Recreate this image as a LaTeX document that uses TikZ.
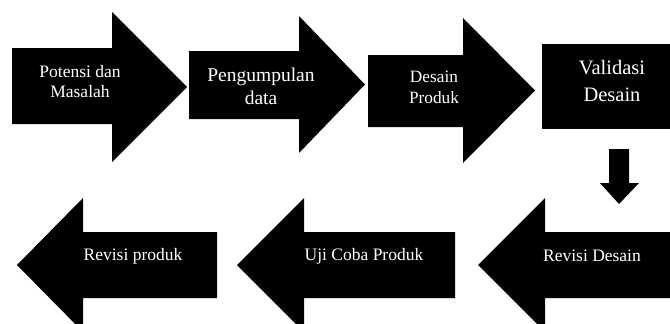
\documentclass[tikz,border=0pt]{standalone}
\usepackage{fontspec}
\setmainfont{Liberation Serif}
\usetikzlibrary{positioning}

\begin{document}
\begin{tikzpicture}[
  x=1pt, y=-1pt,
  blk/.style={fill=black},
  lbl/.style={text=white, align=center, inner sep=0pt, font=\fontsize{17.5}{20}\selectfont}
]
\useasboundingbox (0,0) rectangle (670,324);
\clip (0,0) rectangle (670,324);
% top row, arrows to the right
\foreach \xa/\yt/\yb/\xb/\ht/\hb/\xt in {12/48/124/112/12/162/187, 189/51/119/299/16/153/365, 368/55/127/463/18/163/535} {
  \fill[blk] (\xa,\yt) -- (\xb,\yt) -- (\xb,\ht) -- (\xt,{(\ht+\hb)/2}) -- (\xb,\hb) -- (\xb,\yb) -- (\xa,\yb) -- cycle;
}
\fill[blk] (542,44) rectangle (672,129);
\fill[blk] (609,149) -- (629,149) -- (629,183) -- (639,183) -- (619,204) -- (600,183) -- (609,183) -- cycle;
% bottom row, arrows to the left
\foreach \xa/\xb/\xt in {675/545/478, 455/304/237, 217/83/17} {
  \fill[blk] (\xa,232) -- (\xb,232) -- (\xb,198) -- (\xt,265) -- (\xb,332) -- (\xb,298) -- (\xa,298) -- cycle;
}
\node[lbl] (potensi) at (80,82) {Potensi dan\\Masalah};
\node[lbl, font=\fontsize{19.5}{23}\selectfont] (kumpul) at (261,86) {Pengumpulan\\data};
\node[lbl, font=\fontsize{17.3}{21}\selectfont] (desain) at (434,87) {Desain\\Produk};
\node[lbl, font=\fontsize{20.5}{27}\selectfont] (valid) at (612,81) {Validasi\\Desain};
\node[lbl] (revdesain) at (592,256) {Revisi Desain};
\node[lbl] (ujicoba) at (364,256) {Uji Coba Produk};
\node[lbl] (revproduk) at (133,256) {Revisi produk};
\end{tikzpicture}
\end{document}
